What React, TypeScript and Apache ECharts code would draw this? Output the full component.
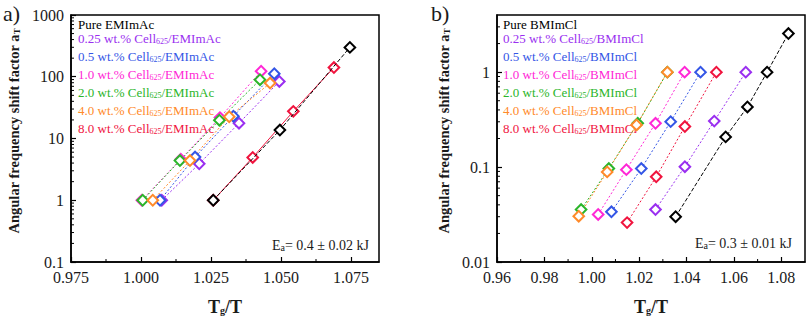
import React, { useEffect, useRef } from "react";
import * as echarts from "echarts";

// ---------- data ----------
const concentrations = ["0.25", "0.5", "1.0", "2.0", "4.0", "8.0"];
const seriesColors = ["#000000", "#9a2ff0", "#3456e6", "#ff27d6", "#2bb52a", "#ff8a2a", "#f0143e"];

// panel a) EMImAc : [Tg/T, aT]
const aPure = [[1.0258, 1], [1.0496, 13.7], [1.0746, 299]];
const a025 = [[1.0074, 1], [1.0208, 3.9], [1.035, 17.7], [1.0494, 84]];
const a05 = [[1.0068, 1], [1.0193, 5.0], [1.033, 23], [1.0476, 112]];
const a10 = [[1.0003, 1], [1.0142, 4.6], [1.0282, 21.8], [1.0429, 123]];
const a20 = [[1.0006, 1], [1.0139, 4.4], [1.028, 19.8], [1.0425, 89.5]];
const a40 = [[1.0042, 1], [1.0175, 4.4], [1.0315, 22.5], [1.0461, 79]];
const a80 = [[1.0258, 1], [1.0399, 4.93], [1.0544, 27.5], [1.0689, 141]];

// panel b) BMImCl : [Tg/T, aT]
const bPure = [[1.0354, 0.03], [1.0565, 0.208], [1.0657, 0.43], [1.074, 1.0], [1.083, 2.55]];
const b025 = [[1.0269, 0.0357], [1.0393, 0.101], [1.0517, 0.305], [1.065, 1.0]];
const b05 = [[1.0083, 0.0338], [1.0209, 0.0965], [1.0333, 0.301], [1.0459, 1.0]];
const b10 = [[1.0027, 0.0317], [1.0146, 0.094], [1.0269, 0.289], [1.0392, 1.0]];
const b20 = [[0.9955, 0.0357], [1.0072, 0.0965], [1.0194, 0.289], [1.0319, 1.0]];
const b40 = [[0.9945, 0.0304], [1.0065, 0.089], [1.0189, 0.278], [1.0319, 1.0]];
const b80 = [[1.0149, 0.026], [1.0272, 0.079], [1.0393, 0.267], [1.0526, 1.0]];

// axes
const aXRange = [0.975, 1.085];
const aXStep = 0.025;
const aYRange = [0.1, 1000];
const bXRange = [0.96, 1.09];
const bXStep = 0.02;
const bYRange = [0.01, 4];

const aXMinor = [0.9875, 1.0125, 1.0375, 1.0625];
const bXMinor = [0.97, 0.99, 1.01, 1.03, 1.05, 1.07];
const aYMinor = [0.2, 0.3, 0.4, 0.5, 0.6, 0.7, 0.8, 0.9, 2, 3, 4, 5, 6, 7, 8, 9, 20, 30, 40, 50, 60, 70, 80, 90, 200, 300, 400, 500, 600, 700, 800, 900];
const bYMinor = [0.02, 0.03, 0.04, 0.05, 0.06, 0.07, 0.08, 0.09, 0.2, 0.3, 0.4, 0.5, 0.6, 0.7, 0.8, 0.9, 2, 3];

const aSolvent = "EMImAc";
const bSolvent = "BMImCl";
const aEa = "0.4 ± 0.02 kJ";
const bEa = "0.3 ± 0.01 kJ";
const yTitle = "Angular frequency shift factor a";

const SERIF = "Liberation Serif";

function legendLines(solvent: string) {
  const lines = ["{a|Pure " + solvent + "}"];
  concentrations.forEach((c) => {
    lines.push("{a|" + c + " wt.% Cell}{s|625}{a|/" + solvent + "}");
  });
  return lines;
}

export default function App() {
  const ref = useRef<HTMLDivElement>(null);

  useEffect(() => {
    document.body.style.margin = "0";
    if (!ref.current) return;
    const chart = echarts.init(ref.current, undefined, { renderer: "svg" });

    const dataSeries = (sets: number[][][], xi: number, solidIdx: number[]) =>
      sets.map((d, i) => ({
        type: "line",
        xAxisIndex: xi,
        yAxisIndex: xi,
        data: d,
        symbol: "emptyRect",
        symbolRotate: 45,
        symbolSize: 7.5,
        z: i === 0 ? 3 : 2,
        lineStyle: {
          color: seriesColors[i],
          width: 1,
          type: solidIdx.includes(i) ? "solid" : i === 0 ? [4, 2] : [2, 2],
        },
        itemStyle: { color: seriesColors[i], borderWidth: 1.4 },
        silent: true,
      }));

    const minorSeries = (vals: number[], xi: number, dir: "x" | "y", other: number) => ({
      type: "custom",
      xAxisIndex: xi,
      yAxisIndex: xi,
      silent: true,
      clip: false,
      data: vals.map((v) => (dir === "y" ? [other, v] : [v, other])),
      renderItem: (_p: any, api: any) => {
        const pt = api.coord([api.value(0), api.value(1)]);
        return {
          type: "line",
          shape:
            dir === "y"
              ? { x1: pt[0], y1: pt[1], x2: pt[0] + 3, y2: pt[1] }
              : { x1: pt[0], y1: pt[1], x2: pt[0], y2: pt[1] - 3 },
          style: { stroke: "#000", lineWidth: 1 },
        };
      },
    });

    const xAxisCommon = (gi: number, range: number[], step: number, digits: number) => ({
      type: "value",
      gridIndex: gi,
      min: range[0],
      max: range[1],
      interval: step,
      axisLine: { lineStyle: { color: "#000", width: 1.5 } },
      axisTick: { inside: true, length: 5, lineStyle: { color: "#000", width: 1.2 } },
      splitLine: { show: false },
      axisLabel: {
        formatter: (v: number) => v.toFixed(digits),
        fontFamily: SERIF,
        fontSize: 16,
        color: "#1a1a1a",
        margin: 7,
        showMaxLabel: false,
      },
      name: "{b|T}{s|g}{b|/T}",
      nameLocation: "middle",
      nameGap: 37,
      nameTextStyle: {
        rich: {
          b: { fontFamily: SERIF, fontSize: 18, fontWeight: "bold", color: "#1a1a1a", lineHeight: 16, verticalAlign: "middle" },
          s: { fontFamily: SERIF, fontSize: 10, fontWeight: "bold", color: "#1a1a1a", lineHeight: 10, padding: [11, 0, 0, 0], verticalAlign: "bottom" },
        },
      },
    });

    const yAxisCommon = (gi: number, range: number[]) => ({
      type: "log",
      logBase: 10,
      gridIndex: gi,
      min: range[0],
      max: range[1],
      axisLine: { lineStyle: { color: "#000", width: 1.5 } },
      axisTick: { inside: true, length: 5, lineStyle: { color: "#000", width: 1.2 } },
      splitLine: { show: false },
      axisLabel: {
        formatter: (v: number) => String(+v.toPrecision(3)),
        fontFamily: SERIF,
        fontSize: 16,
        color: "#1a1a1a",
        margin: 7,
        showMaxLabel: gi === 0,
      },
    });

    const yTitleGraphic = (cx: number, cy: number) => ({
      type: "text",
      x: cx,
      y: cy,
      rotation: Math.PI / 2,
      silent: true,
      style: {
        text: "{b|" + yTitle + "}{s|T}",
        align: "center",
        verticalAlign: "middle",
        rich: {
          b: { fontFamily: SERIF, fontSize: 14.5, fontWeight: "bold", fill: "#1a1a1a", lineHeight: 15, verticalAlign: "middle" },
          s: { fontFamily: SERIF, fontSize: 9, fontWeight: "bold", fill: "#1a1a1a", lineHeight: 9, padding: [10, 0, 0, 0], verticalAlign: "bottom" },
        },
      },
    });

    const legendRich = (color: string) => ({
      a: { fontFamily: SERIF, fontSize: 13, fill: color, color, lineHeight: 14, verticalAlign: "middle" },
      s: { fontFamily: SERIF, fontSize: 8, fill: color, color, lineHeight: 8, padding: [11, 0, 0, 0], verticalAlign: "bottom" },
    });

    const legendGraphics = (solvent: string, x: number, y0: number) => {
      const lines = legendLines(solvent);
      const ys = [0, 14.5, 32.5, 50.5, 68.5, 86.5, 104.5];
      return lines.map((t, i) => ({
        type: "text",
        x,
        y: y0 + ys[i],
        silent: true,
        style: {
          text: t,
          rich: legendRich(seriesColors[i]),
          fill: seriesColors[i],
        },
      }));
    };

    const eaGraphic = (txt: string, right: number, y: number) => ({
      type: "text",
      x: right,
      y,
      silent: true,
      style: {
        text: "{e|E}{s|a}{e|= " + txt + "}",
        align: "right",
        rich: {
          e: { fontFamily: SERIF, fontSize: 14, fill: "#1a1a1a", lineHeight: 14, verticalAlign: "middle" },
          s: { fontFamily: SERIF, fontSize: 10, fill: "#1a1a1a", lineHeight: 10, padding: [10, 0, 0, 0], verticalAlign: "bottom" },
        },
      },
    });

    const option: any = {
      animation: false,
      grid: [
        { left: 71, top: 15, width: 308, height: 250, show: true, borderColor: "#000", borderWidth: 1.5, backgroundColor: "transparent" },
        { left: 497, top: 15, width: 308, height: 250, show: true, borderColor: "#000", borderWidth: 1.5, backgroundColor: "transparent" },
      ],
      xAxis: [xAxisCommon(0, aXRange, aXStep, 3), xAxisCommon(1, bXRange, bXStep, 2)],
      yAxis: [yAxisCommon(0, aYRange), yAxisCommon(1, bYRange)],
      series: [
        ...dataSeries([aPure, a025, a05, a10, a20, a40, a80], 0, [6]),
        ...dataSeries([bPure, b025, b05, b10, b20, b40, b80], 1, []),
        minorSeries(aYMinor, 0, "y", aXRange[0]),
        minorSeries(aXMinor, 0, "x", aYRange[0]),
        minorSeries(bYMinor, 1, "y", bXRange[0]),
        minorSeries(bXMinor, 1, "x", bYRange[0]),
      ],
      graphic: [
        {
          type: "text",
          x: 3,
          y: 2,
          silent: true,
          style: { text: "a)", fontFamily: SERIF, fontSize: 22, fill: "#1a1a1a" },
        },
        {
          type: "text",
          x: 431,
          y: 2,
          silent: true,
          style: { text: "b)", fontFamily: SERIF, fontSize: 22, fill: "#1a1a1a" },
        },
        yTitleGraphic(14, 131),
        yTitleGraphic(444, 131),
        ...legendGraphics(aSolvent, 78, 17),
        ...legendGraphics(bSolvent, 503, 17),
        eaGraphic(aEa, 369, 238),
        eaGraphic(bEa, 792, 236),
      ],
    };

    chart.setOption(option);
    return () => chart.dispose();
  }, []);

  return <div ref={ref} style={{ width: 808, height: 321 }} />;
}
